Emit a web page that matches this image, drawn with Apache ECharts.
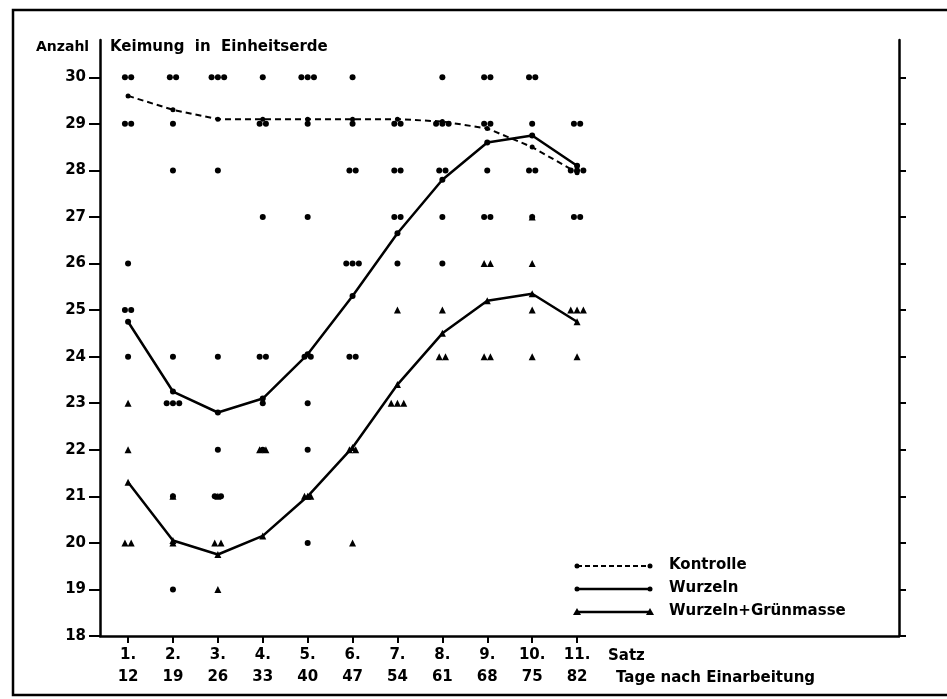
<!DOCTYPE html>
<html>
<head>
<meta charset="utf-8">
<script src="https://cdn.jsdelivr.net/npm/echarts@6.0.0/dist/echarts.min.js"></script>
<style>
  html, body { margin: 0; padding: 0; background: #fff; }
  #chart { width: 947px; height: 699px; }
</style>
</head>
<body>
<div id="chart"></div>
<script>
// Satz (Nummer) und Tage nach Einarbeitung
var satz = [1, 2, 3, 4, 5, 6, 7, 8, 9, 10, 11];
var tage = [12, 19, 26, 33, 40, 47, 54, 61, 68, 75, 82];
var yTicks = [18, 19, 20, 21, 22, 23, 24, 25, 26, 27, 28, 29, 30];

// Mittelwerte
var kontrolle = [29.6, 29.3, 29.1, 29.1, 29.1, 29.1, 29.1, 29.05, 28.9, 28.5, 27.95];
var wurzeln = [24.75, 23.25, 22.8, 23.1, 24.05, 25.3, 26.65, 27.8, 28.6, 28.75, 28.1];
var wurzelnGruen = [21.3, 20.05, 19.75, 20.15, 21.0, 22.05, 23.4, 24.5, 25.2, 25.35, 24.75];

// Einzelwerte: [satz, anzahl gekeimt, wie oft]
var einzelKreis = [
  [1, 30, 2], [1, 29, 2], [1, 26, 1], [1, 25, 2], [1, 24, 1],
  [2, 30, 2], [2, 29, 1], [2, 28, 1], [2, 24, 1], [2, 23, 3], [2, 21, 1], [2, 19, 1],
  [3, 30, 3], [3, 28, 1], [3, 24, 1], [3, 22, 1], [3, 21, 2],
  [4, 30, 1], [4, 29, 2], [4, 27, 1], [4, 24, 2], [4, 23, 1], [4, 22, 1],
  [5, 30, 3], [5, 29, 1], [5, 27, 1], [5, 24, 2], [5, 23, 1], [5, 22, 1], [5, 20, 1],
  [6, 30, 1], [6, 29, 1], [6, 28, 2], [6, 26, 3], [6, 24, 2],
  [7, 29, 2], [7, 28, 2], [7, 27, 2], [7, 26, 1],
  [8, 30, 1], [8, 29, 3], [8, 28, 2], [8, 27, 1], [8, 26, 1],
  [9, 30, 2], [9, 29, 2], [9, 28, 1], [9, 27, 2],
  [10, 30, 2], [10, 29, 1], [10, 28, 2], [10, 27, 1],
  [11, 29, 2], [11, 28, 3], [11, 27, 2]
];
var einzelDreieck = [
  [1, 23, 1], [1, 22, 1], [1, 20, 2],
  [2, 21, 1], [2, 20, 1],
  [3, 21, 1], [3, 20, 2], [3, 19, 1],
  [4, 22, 2],
  [5, 21, 2],
  [6, 22, 2], [6, 20, 1],
  [7, 25, 1], [7, 23, 3],
  [8, 25, 1], [8, 24, 2],
  [9, 26, 2], [9, 24, 2],
  [10, 27, 1], [10, 26, 1], [10, 25, 1], [10, 24, 1],
  [11, 25, 3], [11, 24, 1]
];

var font = '"DejaVu Sans", Verdana, sans-serif';

function pairs(vals) {
  return satz.map(function (s, i) { return [s, vals[i]]; });
}

// mehrere gleiche Werte nebeneinander
function spread(list) {
  var out = [];
  list.forEach(function (d) {
    for (var k = 0; k < d[2]; k++) {
      out.push([d[0] + (k - (d[2] - 1) / 2) * 0.14, d[1]]);
    }
  });
  return out;
}

var chart = echarts.init(document.getElementById('chart'), null, { renderer: 'canvas' });

chart.setOption({
  animation: false,
  backgroundColor: '#fff',
  grid: { left: 100, right: 48, top: 40, bottom: 63 },
  xAxis: {
    type: 'value',
    min: 0.375,
    max: 18.17,
    splitLine: { show: false },
    axisLine: { show: true, lineStyle: { color: '#000', width: 2.5 } },
    axisTick: { show: true, customValues: satz, length: 7, lineStyle: { color: '#000', width: 2 } },
    axisLabel: {
      customValues: satz,
      margin: 8,
      formatter: function (v) {
        var i = satz.indexOf(v);
        return '{a|' + v + '.}\n{b|' + tage[i] + '}';
      },
      rich: {
        a: { fontFamily: font, fontSize: 15, fontWeight: 'bold', color: '#000', lineHeight: 22 },
        b: { fontFamily: font, fontSize: 15, fontWeight: 'bold', color: '#000', lineHeight: 22 }
      }
    }
  },
  yAxis: [{
    type: 'value',
    min: 18,
    max: 30.8,
    position: 'left',
    splitLine: { show: false },
    axisLine: { show: true, lineStyle: { color: '#000', width: 2.5 } },
    axisTick: { show: true, customValues: yTicks, length: 11, lineStyle: { color: '#000', width: 2 } },
    axisLabel: {
      customValues: yTicks,
      margin: 14,
      fontFamily: font, fontSize: 15, fontWeight: 'bold', color: '#000'
    }
  }, {
    type: 'value',
    min: 18,
    max: 30.8,
    position: 'right',
    splitLine: { show: false },
    axisLine: { show: true, lineStyle: { color: '#000', width: 2.5 } },
    axisTick: { show: true, customValues: yTicks, length: 7, lineStyle: { color: '#000', width: 2 } },
    axisLabel: { show: false }
  }],
  series: [{
    name: 'Kontrolle',
    type: 'line',
    data: pairs(kontrolle),
    symbol: 'circle',
    symbolSize: 5,
    itemStyle: { color: '#000' },
    lineStyle: { color: '#000', width: 2, type: [6, 4] }
  }, {
    name: 'Wurzeln',
    type: 'line',
    data: pairs(wurzeln),
    symbol: 'circle',
    symbolSize: 6,
    itemStyle: { color: '#000' },
    lineStyle: { color: '#000', width: 2.5 }
  }, {
    name: 'Wurzeln+Grünmasse',
    type: 'line',
    data: pairs(wurzelnGruen),
    symbol: 'triangle',
    symbolSize: 7,
    itemStyle: { color: '#000' },
    lineStyle: { color: '#000', width: 2.5 }
  }, {
    name: 'Einzelwerte',
    type: 'scatter',
    data: spread(einzelKreis),
    symbol: 'circle',
    symbolSize: 6,
    itemStyle: { color: '#000', opacity: 1 }
  }, {
    name: 'Einzelwerte Dreieck',
    type: 'scatter',
    data: spread(einzelDreieck),
    symbol: 'triangle',
    symbolSize: 7,
    itemStyle: { color: '#000', opacity: 1 }
  }],
  graphic: [
    // Rahmen, rechts offen wie im Scan
    { type: 'rect', shape: { x: 13, y: 10, width: 960, height: 685 }, style: { fill: 'none', stroke: '#000', lineWidth: 2.5 }, silent: true },
    { type: 'text', left: 36, top: 40, style: { text: 'Anzahl', font: 'bold 14px ' + font, fill: '#000' } },
    { type: 'text', left: 110, top: 40, style: { text: 'Keimung  in  Einheitserde', font: 'bold 15px ' + font, fill: '#000' } },
    { type: 'text', left: 608, top: 649, style: { text: 'Satz', font: 'bold 15px ' + font, fill: '#000' } },
    { type: 'text', left: 616, top: 671, style: { text: 'Tage nach Einarbeitung', font: 'bold 15px ' + font, fill: '#000' } },

    // Legende
    { type: 'line', shape: { x1: 577, y1: 566, x2: 650, y2: 566 }, style: { stroke: '#000', lineWidth: 2, lineDash: [5, 3] } },
    { type: 'circle', shape: { cx: 577, cy: 566, r: 2.5 }, style: { fill: '#000' } },
    { type: 'circle', shape: { cx: 650, cy: 566, r: 2.5 }, style: { fill: '#000' } },
    { type: 'text', left: 669, top: 558, style: { text: 'Kontrolle', font: 'bold 15px ' + font, fill: '#000' } },

    { type: 'line', shape: { x1: 577, y1: 589, x2: 650, y2: 589 }, style: { stroke: '#000', lineWidth: 2.5 } },
    { type: 'circle', shape: { cx: 577, cy: 589, r: 2.5 }, style: { fill: '#000' } },
    { type: 'circle', shape: { cx: 650, cy: 589, r: 2.5 }, style: { fill: '#000' } },
    { type: 'text', left: 669, top: 581, style: { text: 'Wurzeln', font: 'bold 15px ' + font, fill: '#000' } },

    { type: 'line', shape: { x1: 577, y1: 612, x2: 650, y2: 612 }, style: { stroke: '#000', lineWidth: 2.5 } },
    { type: 'polygon', shape: { points: [[577, 608], [573, 615], [581, 615]] }, style: { fill: '#000' } },
    { type: 'polygon', shape: { points: [[650, 608], [646, 615], [654, 615]] }, style: { fill: '#000' } },
    { type: 'text', left: 669, top: 604, style: { text: 'Wurzeln+Grünmasse', font: 'bold 15px ' + font, fill: '#000' } }
  ]
});
</script>
</body>
</html>
